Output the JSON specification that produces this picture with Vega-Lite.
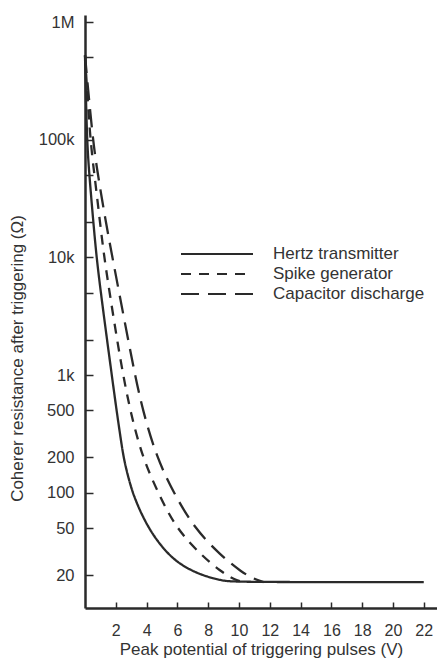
{
  "$schema": "https://vega.github.io/schema/vega-lite/v6.json",
  "width": 352,
  "height": 593,
  "autosize": {"type": "none"},
  "padding": {"left": 85, "top": 15, "right": 0, "bottom": 52},
  "background": "white",
  "config": {"view": {"stroke": null}, "font": "Liberation Sans"},
  "data": {"values": [
    {"s": "Hertz transmitter", "v": 0, "r": 520000},
    {"s": "Hertz transmitter", "v": 0.12, "r": 100000},
    {"s": "Hertz transmitter", "v": 0.28, "r": 50000},
    {"s": "Hertz transmitter", "v": 0.54, "r": 20000},
    {"s": "Hertz transmitter", "v": 0.75, "r": 10000},
    {"s": "Hertz transmitter", "v": 1.03, "r": 5000},
    {"s": "Hertz transmitter", "v": 1.43, "r": 2000},
    {"s": "Hertz transmitter", "v": 1.74, "r": 1000},
    {"s": "Hertz transmitter", "v": 2.05, "r": 500},
    {"s": "Hertz transmitter", "v": 2.3, "r": 300},
    {"s": "Hertz transmitter", "v": 2.5, "r": 200},
    {"s": "Hertz transmitter", "v": 2.79, "r": 138},
    {"s": "Hertz transmitter", "v": 3.1, "r": 100},
    {"s": "Hertz transmitter", "v": 3.43, "r": 78},
    {"s": "Hertz transmitter", "v": 3.77, "r": 62},
    {"s": "Hertz transmitter", "v": 4.42, "r": 43.4},
    {"s": "Hertz transmitter", "v": 5.39, "r": 30},
    {"s": "Hertz transmitter", "v": 6.36, "r": 23.7},
    {"s": "Hertz transmitter", "v": 7.66, "r": 19.7},
    {"s": "Hertz transmitter", "v": 8.96, "r": 17.9},
    {"s": "Hertz transmitter", "v": 9.6, "r": 17.4},
    {"s": "Hertz transmitter", "v": 22, "r": 17.4},
    {"s": "Spike generator", "v": 0, "r": 520000},
    {"s": "Spike generator", "v": 0.33, "r": 100000},
    {"s": "Spike generator", "v": 0.62, "r": 50000},
    {"s": "Spike generator", "v": 0.97, "r": 20000},
    {"s": "Spike generator", "v": 1.25, "r": 10000},
    {"s": "Spike generator", "v": 1.6, "r": 5000},
    {"s": "Spike generator", "v": 2.08, "r": 2000},
    {"s": "Spike generator", "v": 2.48, "r": 1000},
    {"s": "Spike generator", "v": 2.93, "r": 500},
    {"s": "Spike generator", "v": 3.72, "r": 200},
    {"s": "Spike generator", "v": 4.75, "r": 100},
    {"s": "Spike generator", "v": 5.9, "r": 50},
    {"s": "Spike generator", "v": 7.55, "r": 29.5},
    {"s": "Spike generator", "v": 8.8, "r": 21.5},
    {"s": "Spike generator", "v": 9.7, "r": 18.2},
    {"s": "Spike generator", "v": 10.3, "r": 17.4},
    {"s": "Capacitor discharge", "v": 0, "r": 520000},
    {"s": "Capacitor discharge", "v": 0.5, "r": 100000},
    {"s": "Capacitor discharge", "v": 0.84, "r": 50000},
    {"s": "Capacitor discharge", "v": 1.35, "r": 20000},
    {"s": "Capacitor discharge", "v": 1.78, "r": 10000},
    {"s": "Capacitor discharge", "v": 2.22, "r": 5000},
    {"s": "Capacitor discharge", "v": 2.8, "r": 2000},
    {"s": "Capacitor discharge", "v": 3.25, "r": 1000},
    {"s": "Capacitor discharge", "v": 3.75, "r": 500},
    {"s": "Capacitor discharge", "v": 4.65, "r": 200},
    {"s": "Capacitor discharge", "v": 5.75, "r": 100},
    {"s": "Capacitor discharge", "v": 7.1, "r": 50},
    {"s": "Capacitor discharge", "v": 8.8, "r": 29.5},
    {"s": "Capacitor discharge", "v": 10.2, "r": 21},
    {"s": "Capacitor discharge", "v": 11.0, "r": 18.5},
    {"s": "Capacitor discharge", "v": 11.6, "r": 17.4}
  ]},
  "mark": {"type": "line", "strokeWidth": 2.3, "color": "#2a2a2a", "interpolate": "basis"},
  "encoding": {
    "x": {
      "field": "v", "type": "quantitative",
      "scale": {"domain": [0, 22.86], "nice": false, "zero": false},
      "axis": {
        "title": "Peak potential of triggering pulses (V)",
        "values": [2, 4, 6, 8, 10, 12, 14, 16, 18, 20, 22],
        "grid": false,
        "domainColor": "#2a2a2a", "domainWidth": 2.5,
        "tickColor": "#2a2a2a", "tickWidth": 1.5, "tickSize": -6,
        "labelFont": "Liberation Sans", "labelFontSize": 16, "labelColor": "#333", "labelPadding": 20,
        "titleFont": "Liberation Sans", "titleFontSize": 17, "titleFontWeight": "normal", "titleColor": "#333",
        "titleBaseline": "alphabetic", "titleY": 46
      }
    },
    "y": {
      "field": "r", "type": "quantitative",
      "scale": {"type": "log", "domain": [10.49, 1147000], "nice": false},
      "axis": {
        "title": "Coherer resistance after triggering (Ω)",
        "values": [20, 50, 100, 200, 500, 1000, 2000, 5000, 10000, 20000, 50000, 100000, 500000, 1000000],
        "labelExpr": "datum.value == 1000000 ? '1M' : datum.value == 100000 ? '100k' : datum.value == 10000 ? '10k' : datum.value == 1000 ? '1k' : datum.value <= 500 ? format(datum.value, 'd') : ''",
        "grid": false,
        "domainColor": "#2a2a2a", "domainWidth": 2.5,
        "tickColor": "#2a2a2a", "tickWidth": 1.5, "tickSize": -8,
        "labelFont": "Liberation Sans", "labelFontSize": 16.5, "labelColor": "#333", "labelPadding": 19,
        "titleFont": "Liberation Sans", "titleFontSize": 17, "titleFontWeight": "normal", "titleColor": "#333",
        "titleBaseline": "alphabetic", "titleX": -63, "titleY": 343
      }
    },
    "strokeDash": {
      "field": "s", "type": "nominal",
      "scale": {
        "domain": ["Hertz transmitter", "Spike generator", "Capacitor discharge"],
        "range": [[1, 0], [10, 8], [18, 9]]
      },
      "legend": {
        "title": null, "orient": "none", "legendX": 122, "legendY": 229,
        "symbolType": "M-4,0H4", "symbolSize": 324, "symbolStrokeWidth": 2, "symbolStrokeColor": "#2a2a2a",
        "labelFont": "Liberation Sans", "labelFontSize": 17, "labelColor": "#333", "labelOffset": 46,
        "rowPadding": 2
      }
    }
  }
}
